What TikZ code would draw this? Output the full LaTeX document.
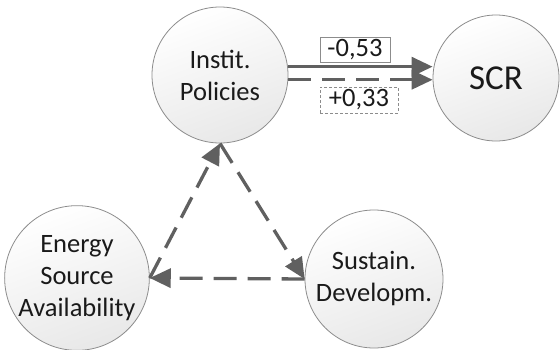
\documentclass[tikz,border=0pt]{standalone}
\usepackage{fontspec}
\setmainfont{Carlito}
\usetikzlibrary{arrows.meta,calc}
\definecolor{arrowgray}{HTML}{606060}
\definecolor{rimgray}{HTML}{8C8C8C}
\definecolor{txt}{HTML}{1A1A1A}
\tikzset{
  bubble/.style={circle,draw=rimgray,line width=0.8pt,top color=white,bottom color=black!9,
    shading angle=20,inner sep=0pt,align=center,text=txt,
    font=\fontsize{26.5}{32}\selectfont},
  link/.style={draw=arrowgray,line width=3.3pt,-{Triangle[length=21pt,width=19pt]}},
  dlink/.style={link,dash pattern=on 23pt off 11pt},
  valbox/.style={draw=rimgray,line width=0.6pt,fill=white,inner sep=2pt,text=txt,
    font=\fontsize{26.5}{30}\selectfont,minimum height=24pt},
}
\begin{document}
\begin{tikzpicture}[x=1pt,y=-1pt]
\useasboundingbox (0,0) rectangle (560,349);
\node[bubble,minimum size=136pt] (I) at (220,75) {Instit.\\Policies};
\node[bubble,minimum size=126pt,font=\fontsize{35}{40}\selectfont] (S) at (496,78) {SCR};
\node[bubble,minimum size=140pt] (E) at (77,278) {Energy\\Source\\Availability};
\node[bubble,minimum size=138pt] (D) at (374,279) {Sustain.\\Developm.};
\draw[link] (I.7) -- (I.7 -| S.west);
\draw[dlink] (I.-4) -- (I.-4 -| S.west);
\node[valbox,minimum width=70pt] (v1) at (355,50) {-0,53};
\node[valbox,dashed,dash pattern=on 3pt off 2pt,minimum width=78pt,minimum height=26pt] (v2) at (359,100) {+0,33};
\draw[dlink] (E.east) -- (I.south);
\draw[dlink] (I.south) -- (D.west);
\draw[dlink] (D.west) -- (E.east);
\end{tikzpicture}
\end{document}
